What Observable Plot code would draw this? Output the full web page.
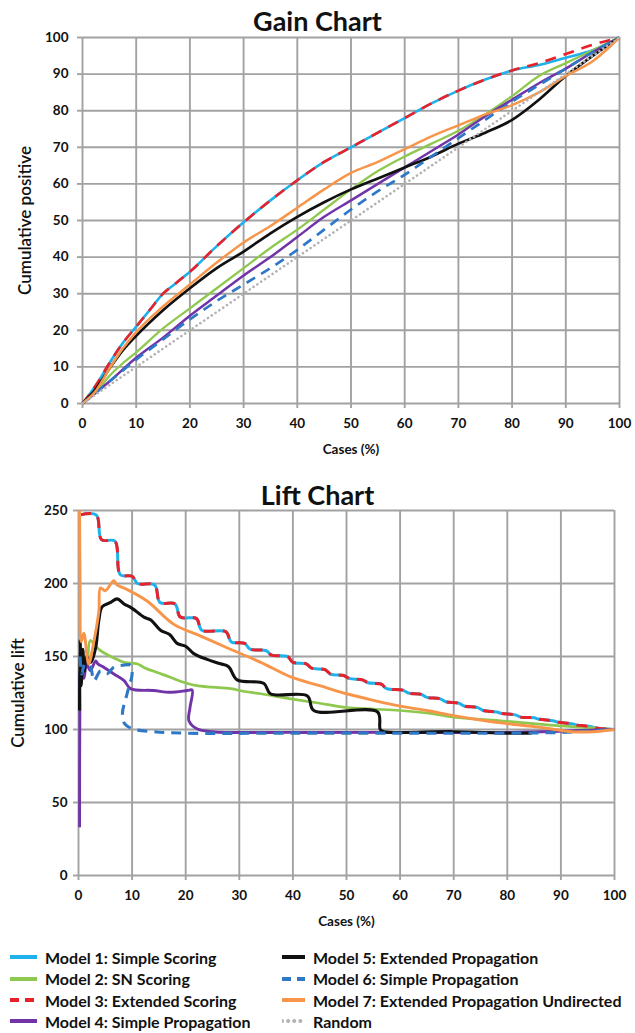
<!DOCTYPE html>
<html>
<head>
<meta charset="utf-8">
<script src="https://cdn.jsdelivr.net/npm/d3@7"></script>
<script src="https://cdn.jsdelivr.net/npm/@observablehq/plot@0.6"></script>
<style>
  body { margin: 0; background: #fff; font-family: Lato, "Open Sans", sans-serif; }
  #wrap { position: relative; width: 635px; height: 1033px; overflow: hidden; background: #fff; }
  .title { position: absolute; left: 0; width: 635px; text-align: center; font-weight: bold; font-size: 27px; line-height: 27px; color: #111; }
  .plot { position: absolute; left: 0; }
  .item { position: absolute; height: 22px; display: flex; align-items: center; font-weight: bold; font-size: 16px; color: #111; white-space: nowrap; }
</style>
</head>
<body>
<div id="wrap">
  <div class="title" style="top:7px">Gain Chart</div>
  <div class="title" style="top:481px">Lift Chart</div>
</div>
<script>
// ---------- tick values ----------
const xTicks = [0, 10, 20, 30, 40, 50, 60, 70, 80, 90, 100];
const gainYTicks = [0, 10, 20, 30, 40, 50, 60, 70, 80, 90, 100];
const liftYTicks = [0, 50, 100, 150, 200, 250];

// ---------- series names ----------
const seriesNames = [
  "Model 1: Simple Scoring",
  "Model 2: SN Scoring",
  "Model 3: Extended Scoring",
  "Model 4: Simple Propagation",
  "Model 5: Extended Propagation",
  "Model 6: Simple Propagation",
  "Model 7: Extended Propagation Undirected",
  "Random"
];

// ---------- Gain chart data: [cases %, cumulative positive] ----------
const gainM1 = [[0,0],[2.5,5],[5,11],[7.5,16.5],[10,21],[12.5,25.5],[15,30],[17.5,33],[20,36],[25,43],[30,49.5],[35,55.5],[40,61],[45,66],[50,70],[55,74],[60,78],[65,82],[70,85.5],[75,88.5],[80,91],[85,92.5],[90,94.5],[95,96.5],[100,100]];
const gainM2 = [[0,0],[2.5,3],[5,7.5],[7.5,11],[10,14],[15,20.5],[20,26],[25,31.5],[30,37],[35,42.5],[40,47.5],[45,53],[50,58.5],[55,63.5],[60,67.5],[65,71],[70,74.5],[75,79],[80,84],[85,89.5],[90,93],[95,96.5],[100,100]];
const gainM3 = [[0,0],[2.5,5],[5,11],[7.5,16.5],[10,21],[12.5,25.5],[15,30],[17.5,33],[20,36],[25,43],[30,49.5],[35,55.5],[40,61],[45,66],[50,70],[55,74],[60,78],[65,82],[70,85.5],[75,88.5],[80,91],[85,93],[90,95.5],[95,98],[100,100]];
const gainM4 = [[0,0],[5,6],[10,12.5],[15,18],[20,24],[25,29.5],[30,35],[35,40],[40,45.5],[45,51],[50,55.5],[55,60],[60,64.5],[65,69],[70,73.5],[75,78.5],[80,83],[85,87.5],[90,91.5],[95,96],[100,100]];
const gainM5 = [[0,0],[2.5,4],[5,9.5],[7.5,14.5],[10,18.5],[15,25.5],[20,31.5],[25,37],[30,41.5],[35,46.5],[40,51],[45,55],[50,58.5],[55,61.5],[60,64.5],[65,67.5],[70,71],[75,74],[80,77.5],[85,83],[90,89.5],[95,95],[100,100]];
const gainM6 = [[0,0],[5,6],[10,12],[15,17.5],[20,23],[25,28],[30,32.5],[35,37],[40,42],[45,47.5],[50,53],[55,58],[60,62.5],[65,67.5],[70,72.5],[75,77.5],[80,82.5],[85,87],[90,91.5],[95,96],[100,100]];
const gainM7 = [[0,0],[2.5,3.5],[5,9.5],[7.5,15],[10,19.5],[15,26.5],[20,32.5],[25,38.5],[30,44],[35,48.5],[40,53.5],[45,58.5],[50,63],[55,66],[60,69.5],[65,73],[70,76],[75,79],[80,81.5],[85,85],[90,89.5],[95,93.5],[100,100]];
const gainRandom = [[0,0],[100,100]];

// ---------- Lift chart data: [cases %, cumulative lift] ----------
const liftM1 = [[0.3,247],[3.3,247],[4.3,230],[6.8,229],[7.8,206],[10,205],[11,200],[14.2,199],[15.2,187],[18,186],[19,177],[22,176],[23,168],[27.5,167],[28.5,160],[31,159],[32,155],[35,154],[36,151],[39,150],[40,146],[42.5,145],[43.5,142],[46,141],[47,138],[49.5,137],[50.5,135],[53,134],[54,132],[56.5,131],[57.5,128],[60.5,127],[61.5,125],[64,124],[65,122],[67.5,121],[68.5,119],[71,118],[72,116],[74.5,115],[75.5,113],[78,112],[79,111],[81.5,110],[82.5,108.5],[85,108],[86,107],[88.5,106],[89.5,105],[92,104],[93,103],[95.5,102],[96.5,101],[100,100]];
const liftM2 = [[1.8,150],[2.2,161],[3,158],[4.1,154],[5.5,151],[6.6,149],[8.5,146],[10.9,145],[12.5,142],[14.7,139],[17,136],[19,133],[22,130],[25,129],[28.4,128],[31,126],[34,124.5],[39.6,121],[45,118],[50,115],[55,114],[60,113],[65.7,111],[70,108.5],[78.7,106],[88,103],[94,101.5],[100,100]];
const liftM3 = [[0.3,247],[3.3,247],[4.3,230],[6.8,229],[7.8,206],[10,205],[11,200],[14.2,199],[15.2,187],[18,186],[19,177],[22,176],[23,168],[27.5,167],[28.5,160],[31,159],[32,155],[35,154],[36,151],[39,150],[40,146],[42.5,145],[43.5,142],[46,141],[47,138],[49.5,137],[50.5,135],[53,134],[54,132],[56.5,131],[57.5,128],[60.5,127],[61.5,125],[64,124],[65,122],[67.5,121],[68.5,119],[71,118],[72,116],[74.5,115],[75.5,113],[78,112],[79,111],[81.5,110],[82.5,108.5],[85,108],[86,107],[88.5,106],[89.5,105],[92,104],[93,103],[95.5,102],[96.5,101],[100,100]];
const liftM4 = [[0.2,33],[0.25,110],[0.4,140],[1,135],[1.5,145],[2.2,140.4],[3.2,147],[3.6,145],[4.7,142.7],[6.6,138],[8.5,133.5],[9.7,128],[14,126.7],[17.2,125.5],[20.3,126.7],[21.2,127],[20.8,115],[20.6,106],[22.1,100.5],[25,98.5],[40,98],[57,98],[80,98],[100,100]];
const liftM5 = [[0.2,113],[0.3,162],[0.5,130],[0.8,155],[1.1,140],[1.5,150],[2.3,146],[3.2,156],[3.8,175],[4.4,184],[6,187],[7.2,189.5],[8.5,186],[10,183],[12.2,177],[13.5,175],[15.3,168],[17,165],[18.4,159],[20,157],[21.5,152],[24,148],[26.5,145],[28,143],[29.6,134],[34.6,131.5],[35.8,124.5],[42.7,123],[43.9,113],[55.8,112],[56.3,100],[57,98.5],[70,98.5],[80,97.5],[84.5,97.5]];
const liftM6 = [[0.3,150],[0.6,138],[1.2,145],[2.2,143],[2.9,133.5],[4.1,140],[5.3,138],[6.6,142.7],[8.2,144],[9.7,144],[10,138],[9.1,125],[8.2,111],[8.6,104],[10,100.5],[14,98.5],[20,97.5],[40,97.5],[60,97.5],[80,97.5],[90,98],[95,99],[100,100]];
const liftM7 = [[0.2,250],[0.3,200],[0.5,160],[1,166],[1.9,145],[2.9,161],[3.8,181],[4.1,197],[5,195],[6.6,202],[7.2,199],[9,196],[12.8,188],[17.8,172],[22.8,164],[27.7,156],[34,146],[39.6,136],[45,130],[50,124.5],[55,120],[60,116],[65,113],[70,109.5],[75,106.5],[80,104],[85,102],[88,100.5],[92,98.5],[96,98.5],[100,100]];

// ---------- styles (separate from data) ----------
const styles = [
  {stroke: "#1eb1ea", width: 2.6, dash: null},
  {stroke: "#8fc84f", width: 2.3, dash: null},
  {stroke: "#e8212b", width: 2.6, dash: "11,8"},
  {stroke: "#7134a8", width: 2.5, dash: null},
  {stroke: "#111111", width: 2.7, dash: null},
  {stroke: "#2f78c6", width: 2.7, dash: "10,7"},
  {stroke: "#f7964a", width: 2.5, dash: null},
  {stroke: "#b3b3b3", width: 2.6, dash: "0.1,4.5", cap: "round"}
];

const gainSeries = [gainM1, gainM2, gainM3, gainM4, gainM5, gainM6, gainM7, gainRandom];
const liftSeries = [liftM1, liftM2, liftM3, liftM4, liftM5, liftM6, liftM7];

function lines(all, curve, extra) {
  return all.map((arr, i) => {
    const s = styles[i];
    return Plot.line(arr, {
      x: d => d[0], y: d => d[1],
      stroke: s.stroke, strokeWidth: s.width + extra,
      strokeDasharray: s.dash || undefined,
      strokeLinecap: s.cap || "butt", strokeLinejoin: "round",
      curve: i === 7 ? "linear" : curve
    });
  });
}

const gridColor = "#a2a2a2";
const font = "Lato, 'Open Sans', sans-serif";

function chart({height, mt, mb, ml, mr, yDomain, yTicks, series, yTitle, yTitleDx, yPad, curve, extra}) {
  return Plot.plot({
    width: 635, height,
    marginTop: mt, marginBottom: mb, marginLeft: ml, marginRight: mr,
    style: {fontFamily: font, background: "transparent", color: "#111", overflow: "visible"},
    x: {domain: [0, 100]},
    y: {domain: yDomain},
    marks: [
      Plot.gridX(xTicks, {stroke: gridColor, strokeOpacity: 1, strokeWidth: 1.9}),
      Plot.gridY(yTicks, {stroke: gridColor, strokeOpacity: 1, strokeWidth: 1.9}),
      Plot.axisX(xTicks, {tickSize: 5, tickPadding: 10, stroke: gridColor, strokeWidth: 1.9, fill: "#111",
        fontWeight: "bold", fontSize: 13.5, label: null}),
      Plot.axisY(yTicks, {tickSize: 5, tickPadding: yPad, stroke: gridColor, strokeWidth: 1.9, fill: "#111",
        fontWeight: "bold", fontSize: 13.5, label: null}),
      ...lines(series, curve, extra),
      Plot.text(["Cases (%)"], {frameAnchor: "bottom", dy: 50, fontWeight: "bold", fontSize: 13.5, fill: "#111"}),
      Plot.text([yTitle], {frameAnchor: "left", textAnchor: "middle", dx: yTitleDx, rotate: -90,
        fontWeight: 600, fontSize: 17, fill: "#111"})
    ]
  });
}

const wrap = document.getElementById("wrap");

const gain = chart({height: 470, mt: 37, mb: 67, ml: 82, mr: 16, yDomain: [0, 100], yTicks: gainYTicks,
  series: gainSeries, yTitle: "Cumulative positive", yTitleDx: -57, yPad: 9, curve: "monotone-x", extra: 0});
gain.classList.add("plot");
gain.style.top = "0px";
wrap.appendChild(gain);

const lift = chart({height: 470, mt: 40, mb: 65, ml: 78, mr: 21, yDomain: [0, 250], yTicks: liftYTicks,
  series: liftSeries, yTitle: "Cumulative lift", yTitleDx: -60, yPad: 6, curve: "catmull-rom", extra: 0.4});
lift.classList.add("plot");
lift.style.top = "470px";
wrap.appendChild(lift);

// ---------- legend ----------
const legendRows = [957, 978.5, 1000, 1021];
seriesNames.forEach((name, i) => {
  const col = i < 4 ? 0 : 1;
  const row = i % 4;
  const s = styles[i];
  const left = col === 0 ? 10 : 282;
  const sw = col === 0 ? 27 : 23;
  const item = document.createElement("div");
  item.className = "item";
  item.style.left = left + "px";
  item.style.top = (legendRows[row] - 11) + "px";
  const svg = d3.create("svg").attr("width", sw).attr("height", 8).style("margin-right", (col === 0 ? 8 : 8) + "px");
  svg.append("line").attr("x1", 0).attr("x2", sw).attr("y1", 4).attr("y2", 4)
    .attr("stroke", s.stroke).attr("stroke-width", 4)
    .attr("stroke-dasharray", s.dash ? (i === 7 ? "0.1,6" : "9,6") : null)
    .attr("stroke-linecap", s.cap || "butt");
  item.appendChild(svg.node());
  item.appendChild(document.createTextNode(name));
  wrap.appendChild(item);
});
</script>
</body>
</html>
